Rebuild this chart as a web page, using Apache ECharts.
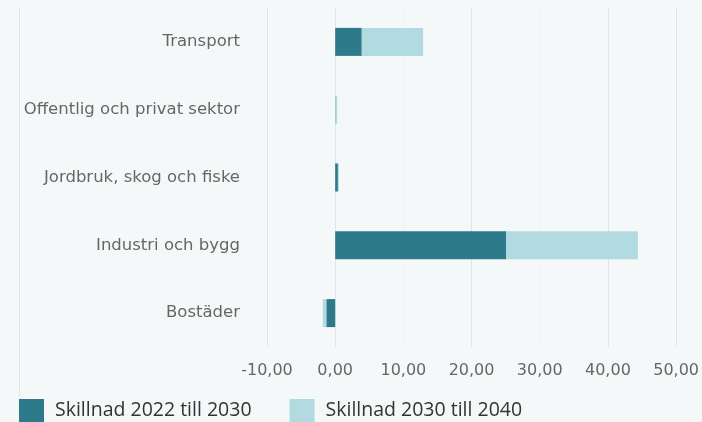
<!DOCTYPE html>
<html>
<head>
<meta charset="utf-8">
<script src="https://cdn.jsdelivr.net/npm/echarts@6/dist/echarts.min.js"></script>
<style>
  html, body { margin: 0; padding: 0; background: #f5f8f9; }
  #chart { width: 702px; height: 422px; }
</style>
</head>
<body>
<div id="chart"></div>
<script>
// Sectors, top to bottom
const sectors = ['Transport', 'Offentlig och privat sektor', 'Jordbruk, skog och fiske', 'Industri och bygg', 'Bostäder'];
// Change 2022 -> 2030
const diff2022to2030 = [3.9, 0.05, 0.4, 25.1, -1.3];
// Change 2030 -> 2040
const diff2030to2040 = [9.0, 0.25, 0.15, 19.3, -0.5];
const seriesNames = ['Skillnad 2022 till 2030', 'Skillnad 2030 till 2040'];
const xTicks = { min: -10, max: 50, step: 10 };

const chart = echarts.init(document.getElementById('chart'), null, { renderer: 'canvas' });

const gridLine = '#e2e5e8';
const faintLine = '#f1f3f5';
const labelFont = 'DejaVu Sans, Verdana, sans-serif';

chart.setOption({
  backgroundColor: '#f5f8f9',
  animation: false,
  grid: { left: 267, right: 25, top: 8, bottom: 75, containLabel: false },
  graphic: [{
    type: 'line',
    shape: { x1: 19.5, y1: 8, x2: 19.5, y2: 396 },
    style: { stroke: gridLine, lineWidth: 1 }
  }],
  xAxis: {
    type: 'value',
    min: xTicks.min,
    max: xTicks.max,
    interval: xTicks.step,
    axisLine: { show: false },
    axisTick: { show: false },
    splitLine: {
      show: true,
      lineStyle: { color: [gridLine, gridLine, faintLine, gridLine, faintLine, gridLine, gridLine], width: 1 }
    },
    axisLabel: {
      color: '#666666',
      fontFamily: labelFont,
      fontSize: 16,
      margin: 16,
      formatter: v => v.toFixed(2).replace('.', ',')
    }
  },
  yAxis: {
    type: 'category',
    data: sectors,
    inverse: true,
    axisLine: { show: false },
    axisTick: { show: false },
    splitLine: { show: false },
    axisLabel: {
      color: '#666666',
      fontFamily: labelFont,
      fontSize: 16.5,
      margin: 27
    }
  },
  legend: {
    left: 19,
    top: 399,
    padding: 0,
    itemWidth: 25,
    itemHeight: 23,
    itemGap: 38,
    icon: 'rect',
    textStyle: {
      color: '#333333',
      fontFamily: 'Open Sans, sans-serif',
      fontSize: 19.5,
      padding: [0, 0, 0, 6]
    },
    data: seriesNames
  },
  series: [
    {
      name: seriesNames[0],
      type: 'bar',
      stack: 'total',
      barWidth: 28,
      itemStyle: { color: '#2d7a8b' },
      data: diff2022to2030
    },
    {
      name: seriesNames[1],
      type: 'bar',
      stack: 'total',
      barWidth: 28,
      itemStyle: { color: '#b1dbe0' },
      data: diff2030to2040
    }
  ]
});
</script>
</body>
</html>
